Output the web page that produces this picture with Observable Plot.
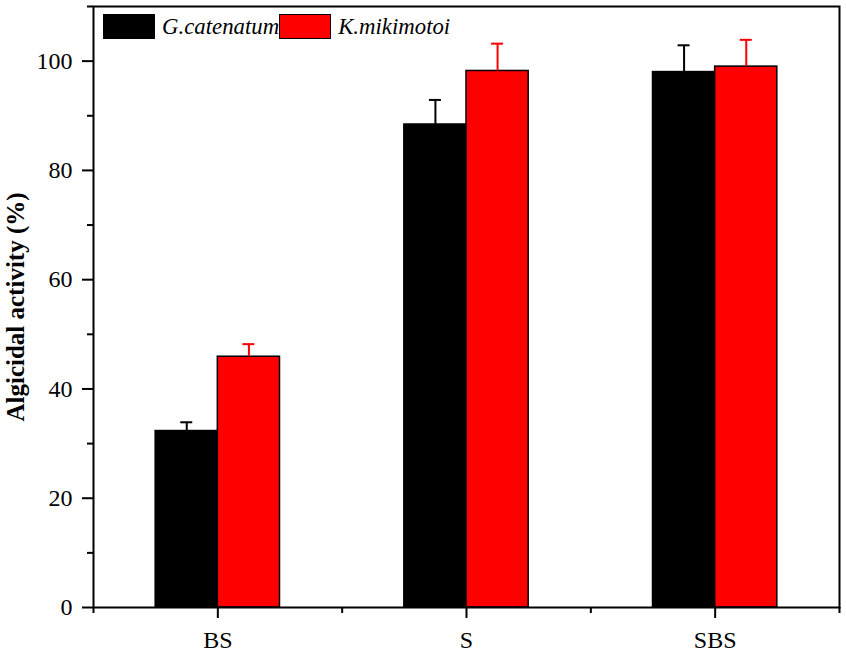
<!DOCTYPE html>
<html><head><meta charset="utf-8">
<script src="https://cdn.jsdelivr.net/npm/d3@7"></script>
<script src="https://cdn.jsdelivr.net/npm/@observablehq/plot@0.6"></script>
<style>
body{margin:0;background:#fff;}
#wrap{position:relative;width:846px;height:653px;}
.legend{position:absolute;left:103px;top:14px;display:flex;align-items:center;font-family:"Liberation Serif",serif;font-style:italic;font-size:22.8px;line-height:25px;color:#000;}
.sw{width:50px;height:23px;border:1px solid #000;box-sizing:content-box;margin-right:7px;}
</style></head><body>
<div id="wrap"></div>
<script>
const categories = ["BS", "S", "SBS"];
const series = ["G.catenatum", "K.mikimotoi"];
const gValues = [32.3, 88.4, 98.0];
const gErrors = [1.6, 4.5, 4.9];
const kValues = [45.9, 98.2, 99.0];
const kErrors = [2.3, 5.0, 4.9];
const colors = ["#000000", "#ff0000"];
const yTicks = [0, 20, 40, 60, 80, 100];
const yMinor = [10, 30, 50, 70, 90, 110];
const yTitle = "Algicidal activity (%)";

const outer = d3.scaleBand().domain(categories).range([0, categories.length]);
const inner = d3.scaleBand().domain(series).range([0, 1]).paddingInner(0).paddingOuter(1);

const rows = [];
[[gValues, gErrors], [kValues, kErrors]].forEach(([vals, errs], s) => {
  categories.forEach((c, i) => {
    const x1 = outer(c) + inner(series[s]) * outer.bandwidth();
    const x2 = x1 + inner.bandwidth() * outer.bandwidth();
    rows.push({cat: c, series: series[s], value: vals[i], err: errs[i], x1, x2, xc: (x1 + x2) / 2, color: colors[s]});
  });
});
const centers = categories.map(c => ({cat: c, x: outer(c) + outer.bandwidth() / 2}));
const bounds = d3.range(categories.length + 1);

const chart = Plot.plot({
  width: 846,
  height: 653,
  marginTop: 6,
  marginRight: 7,
  marginBottom: 46,
  marginLeft: 93,
  style: {fontFamily: "Liberation Serif, serif", background: "#fff", color: "#000"},
  x: {domain: [0, categories.length], label: null},
  y: {domain: [0, 110], label: null},
  marks: [
    Plot.rectY(rows, {x1: "x1", x2: "x2", y1: 0, y2: "value", fill: "color", stroke: "#000", strokeWidth: 1.5}),
    Plot.ruleX(rows, {x: "xc", y1: "value", y2: d => d.value + d.err, stroke: "color", strokeWidth: 2}),
    Plot.ruleY(rows, {y: d => d.value + d.err, x1: "xc", x2: "xc", insetLeft: -6, insetRight: -6, stroke: "color", strokeWidth: 2}),
    Plot.axisY({ticks: yTicks, tickSize: 11, strokeWidth: 2, tickFormat: () => "", label: null}),
    Plot.axisY({ticks: yMinor, tickSize: 6, strokeWidth: 2, tickFormat: () => "", label: null}),
    Plot.text(yTicks, {y: d => d, text: d => String(d), frameAnchor: "left", textAnchor: "end", lineAnchor: "middle", dx: -21, fontSize: 24, fill: "#000"}),
    Plot.axisX({ticks: centers.map(d => d.x), tickSize: 11, strokeWidth: 2, tickFormat: () => "", label: null}),
    Plot.axisX({ticks: bounds, tickSize: 6, strokeWidth: 2, tickFormat: () => "", label: null}),
    Plot.text(centers, {x: "x", text: "cat", frameAnchor: "bottom", lineAnchor: "top", dy: 23, fontSize: 24, fill: "#000"}),
    Plot.frame({stroke: "#000", strokeWidth: 2}),
    Plot.text([yTitle], {frameAnchor: "left", textAnchor: "middle", rotate: -90, dx: -78, fontSize: 25, fontWeight: "bold", fill: "#000"})
  ]
});

const wrap = document.getElementById("wrap");
wrap.appendChild(chart);
const legend = document.createElement("div");
legend.className = "legend";
series.forEach((s, i) => {
  const sw = document.createElement("span");
  sw.className = "sw";
  sw.style.background = colors[i];
  const t = document.createElement("span");
  t.textContent = s;
  legend.appendChild(sw);
  legend.appendChild(t);
});
wrap.appendChild(legend);
</script>
</body></html>
